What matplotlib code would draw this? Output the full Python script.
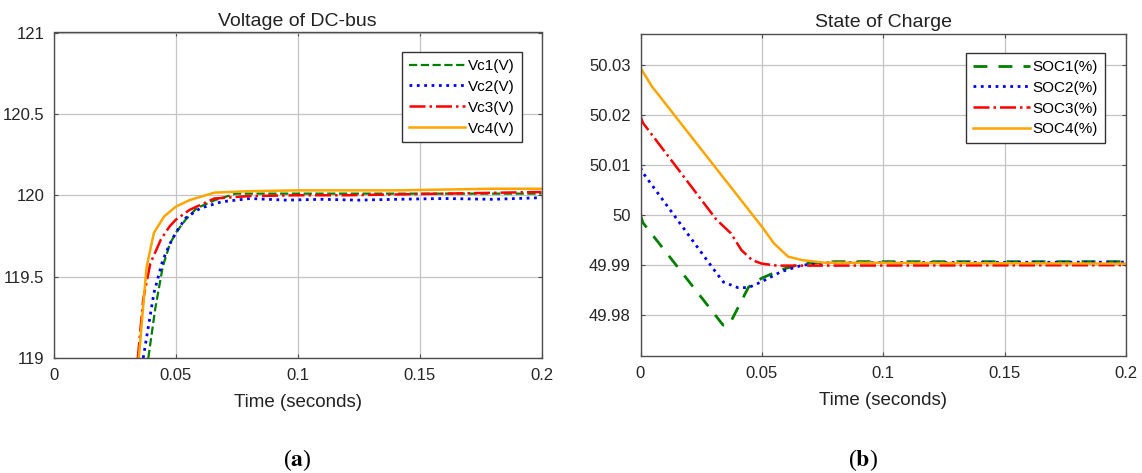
import numpy as np
import matplotlib
matplotlib.use('Agg')
import matplotlib.pyplot as plt

plt.rcParams['font.family'] = ['Liberation Sans', 'DejaVu Sans']
plt.rcParams['mathtext.fontset'] = 'stix'

# ---- data ----
# (a) DC-bus voltages
t_vc1 = [0.0387, 0.0415, 0.0446, 0.0475, 0.050, 0.054, 0.0585, 0.066, 0.0746, 0.09, 0.11, 0.13, 0.15, 0.17, 0.19, 0.2]
vc1 = [119.0, 119.3, 119.56, 119.7, 119.77, 119.85, 119.92, 119.97, 120.01, 120.01, 120.01, 120.01, 120.01, 120.01, 120.01, 120.01]

t_vc2 = [0.0366, 0.041, 0.0446, 0.0475, 0.050, 0.054, 0.060, 0.0688, 0.0805, 0.095, 0.11, 0.125, 0.14, 0.16, 0.18, 0.2]
vc2 = [119.0, 119.4, 119.6, 119.7, 119.77, 119.86, 119.92, 119.96, 119.98, 119.97, 119.975, 119.97, 119.975, 119.98, 119.975, 119.985]

t_vc3 = [0.0344, 0.0366, 0.0395, 0.0439, 0.0475, 0.050, 0.0556, 0.0658, 0.080, 0.10, 0.12, 0.14, 0.16, 0.18, 0.2]
vc3 = [119.0, 119.36, 119.58, 119.73, 119.81, 119.85, 119.91, 119.98, 119.995, 120.0, 120.0, 120.005, 120.01, 120.015, 120.02]

t_vc4 = [0.0348, 0.0366, 0.038, 0.041, 0.0452, 0.050, 0.0556, 0.0658, 0.080, 0.10, 0.12, 0.14, 0.16, 0.18, 0.2]
vc4 = [119.0, 119.32, 119.56, 119.77, 119.87, 119.93, 119.97, 120.016, 120.025, 120.03, 120.03, 120.03, 120.035, 120.04, 120.04]

# (b) state of charge
t_soc1 = [0.0, 0.001, 0.034, 0.0365, 0.0445, 0.050, 0.058, 0.0667, 0.08, 0.2]
soc1 = [50.0, 49.9985, 49.978, 49.978, 49.9856, 49.9874, 49.9891, 49.9903, 49.9907, 49.9907]

t_soc2 = [0.0, 0.001, 0.0313, 0.0342, 0.0401, 0.0445, 0.050, 0.058, 0.0667, 0.078, 0.2]
soc2 = [50.0095, 50.0085, 49.9884, 49.9866, 49.9855, 49.9855, 49.9867, 49.9887, 49.99, 49.9905, 49.9906]

t_soc3 = [0.0, 0.001, 0.0313, 0.0372, 0.0416, 0.046, 0.050, 0.0563, 0.0637, 0.2]
soc3 = [50.0198, 50.0185, 49.9991, 49.9964, 49.993, 49.991, 49.9903, 49.9899, 49.9899, 49.9900]

t_soc4 = [0.0, 0.0047, 0.050, 0.0549, 0.0608, 0.0667, 0.0755, 0.2]
soc4 = [50.0295, 50.0258, 49.9977, 49.9944, 49.9917, 49.991, 49.9905, 49.9903]

x_ticks = [0, 0.05, 0.1, 0.15, 0.2]
x_labels = ['0', '0.05', '0.1', '0.15', '0.2']
v_ticks = [119, 119.5, 120, 120.5, 121]
v_labels = ['119', '119.5', '120', '120.5', '121']
soc_ticks = [49.98, 49.99, 50.0, 50.01, 50.02, 50.03]
soc_labels = ['49.98', '49.99', '50', '50.01', '50.02', '50.03']

green = '#008000'
blue = '#0000ff'
red = '#ff0000'
orange = '#ffa500'

fig = plt.figure(figsize=(11.42, 4.73), dpi=100)


def style(ax):
    ax.grid(True, color='#c4c4c4', linewidth=0.9)
    ax.set_axisbelow(True)
    for s in ax.spines.values():
        s.set_color('#4d4d4d')
        s.set_linewidth(1.0)
    ax.tick_params(direction='in', length=3, color='#4d4d4d', labelsize=12,
                   labelcolor='#262626', pad=7, top=True, right=True)
    ax.set_xlim(0, 0.2)
    ax.set_xticks(x_ticks)
    ax.set_xticklabels(x_labels)
    ax.set_xlabel('Time (seconds)', fontsize=13.5, color='#222222', labelpad=8)


def legend(ax, anchor):
    leg = ax.legend(loc='upper right', bbox_to_anchor=anchor, fontsize=11,
                    fancybox=False, framealpha=1, edgecolor='#333333',
                    handlelength=3.7, handletextpad=0.2, borderpad=0.45,
                    labelspacing=0.45, borderaxespad=0)
    leg.get_frame().set_linewidth(1.0)


# (a) voltage of DC-bus
ax = fig.add_axes([54 / 1142, 1 - 358 / 473, 487.5 / 1142, 325.5 / 473])
ax.plot(t_vc1, vc1, '--', color=green, lw=1.6, label='Vc1(V)')
ax.plot(t_vc2, vc2, ':', color=blue, lw=2.0, label='Vc2(V)')
ax.plot(t_vc3, vc3, '-.', color=red, lw=1.8, label='Vc3(V)')
ax.plot(t_vc4, vc4, '-', color=orange, lw=1.8, label='Vc4(V)')
ax.set_ylim(119, 121)
ax.set_yticks(v_ticks)
ax.set_yticklabels(v_labels)
style(ax)
ax.set_title('Voltage of DC-bus', fontsize=14, color='#222222', pad=5)
legend(ax, ((522 - 54) / 487.5, (358 - 52) / 325.5))

# (b) state of charge
ax = fig.add_axes([640.5 / 1142, 1 - 356 / 473, 485.5 / 1142, 322 / 473])
ax.plot(t_soc1, soc1, '--', color=green, lw=2.0, dashes=(5, 4), label='SOC1(%)')
ax.plot(t_soc2, soc2, ':', color=blue, lw=2.0, label='SOC2(%)')
ax.plot(t_soc3, soc3, '-.', color=red, lw=1.8, label='SOC3(%)')
ax.plot(t_soc4, soc4, '-', color=orange, lw=1.8, label='SOC4(%)')
ax.set_ylim(49.9718, 50.0363)
ax.set_yticks(soc_ticks)
ax.set_yticklabels(soc_labels)
style(ax)
ax.set_title('State of Charge', fontsize=14, color='#222222', pad=5)
legend(ax, ((1105 - 640.5) / 485.5, (356 - 53) / 322))

fig.text(297 / 1142, 1 - 460 / 473, r'($\mathbf{a}$)', ha='center', va='center',
         fontsize=17, family='Liberation Serif')
fig.text(863 / 1142, 1 - 460 / 473, r'($\mathbf{b}$)', ha='center', va='center',
         fontsize=17, family='Liberation Serif')

fig.savefig('out.png', dpi=100)
